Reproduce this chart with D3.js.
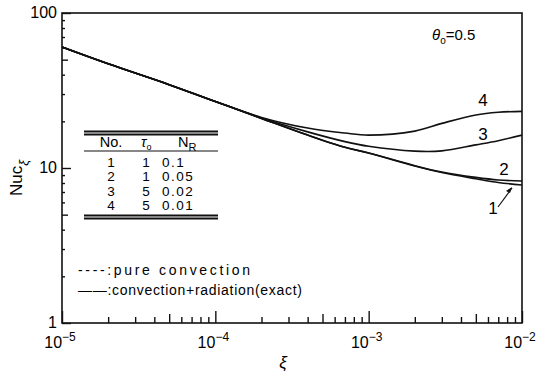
<!DOCTYPE html>
<html>
<head>
<meta charset="utf-8">
<script src="https://cdn.jsdelivr.net/npm/d3@7"></script>
<style>
  body { margin: 0; background: #fff; }
  svg { font-family: "Liberation Sans", Arial, sans-serif; }
  .curve { fill: none; stroke: #111; stroke-width: 1.6; }
  .tick line { stroke: #111; stroke-width: 1.4; }
</style>
</head>
<body>
<svg id="root"></svg>
<script>
// data
const xi = [1e-5, 2e-5, 5e-5, 1e-4, 2e-4, 4e-4, 7e-4, 1e-3, 2e-3, 3e-3, 5e-3, 7e-3, 1e-2];
const nu1 = [60.3, 47.0, 34.5, 26.85, 20.9, 16.3, 13.6, 12.5, 10.3, 9.35, 8.53, 8.07, 7.77];
const nu2 = [60.3, 47.0, 34.5, 26.85, 20.9, 16.3, 13.6, 12.5, 10.35, 9.42, 8.7, 8.37, 8.24];
const nu3 = [60.3, 47.0, 34.5, 26.85, 21.0, 17.1, 14.8, 13.8, 12.85, 12.9, 14.1, 15.0, 16.3];
const nu4 = [60.3, 47.0, 34.5, 26.85, 21.2, 18.1, 16.8, 16.3, 17.3, 19.4, 22.0, 22.9, 23.2];
const curveNames = ['1', '2', '3', '4'];
const tableHead = ['No.', 'τ', 'N'];
const tableRows = [['1', '1', '0.1'], ['2', '1', '0.05'], ['3', '5', '0.02'], ['4', '5', '0.01']];
const xMajors = [1e-5, 1e-4, 1e-3, 1e-2];
const yMajors = [1, 10, 100];

const width = 542, height = 380;
const margin = { top: 13, right: 20, bottom: 57, left: 62 };

const x = d3.scaleLog().domain([1e-5, 1e-2]).range([margin.left, width - margin.right]);
const y = d3.scaleLog().domain([1, 100]).range([height - margin.bottom, margin.top]);

const svg = d3.select('#root').attr('width', width).attr('height', height);

// minor ticks for a log decade set
function logTicks(lo, hi) {
    const t = [];
    for (let e = lo; e < hi; e++)
        for (let m = 1; m < 10; m++) t.push(m * Math.pow(10, e));
    t.push(Math.pow(10, hi));
    return t;
}
function tickLen(d) {
    const m = Math.round(d / Math.pow(10, Math.floor(Math.log10(d) + 1e-9)));
    if (m === 1) return 12;
    if (m === 5) return 9;
    return 6;
}

// x axis, ticks pointing up
const axisX = d3.axisBottom(x).tickValues(logTicks(-5, -2)).tickFormat('').tickSizeOuter(0);
const gx = svg.append('g')
    .attr('class', 'x axis')
    .attr('transform', `translate(0, ${height - margin.bottom})`)
    .call(axisX);
gx.select('.domain').remove();
gx.selectAll('.tick line').attr('y2', d => -tickLen(d));

// y axis, ticks pointing right
const axisY = d3.axisLeft(y).tickValues(logTicks(0, 2)).tickFormat('').tickSizeOuter(0);
const gy = svg.append('g')
    .attr('class', 'y axis')
    .attr('transform', `translate(${margin.left}, 0)`)
    .call(axisY);
gy.select('.domain').remove();
gy.selectAll('.tick line').attr('x2', d => tickLen(d) - 3);

// frame
svg.append('rect')
    .attr('x', x.range()[0]).attr('y', y.range()[1])
    .attr('width', x.range()[1] - x.range()[0])
    .attr('height', y.range()[0] - y.range()[1])
    .attr('fill', 'none').attr('stroke', '#111').attr('stroke-width', 1.6);

// tick labels
svg.selectAll('.xlab').data(xMajors).enter().append('text')
    .attr('class', 'xlab')
    .attr('x', d => x(d) - 2)
    .attr('y', height - margin.bottom + 25)
    .attr('text-anchor', 'middle')
    .attr('font-size', 16)
    .each(function(d) {
        const t = d3.select(this);
        t.append('tspan').text('10');
        t.append('tspan').attr('dy', -7).attr('font-size', 12).text('−' + Math.round(-Math.log10(d)));
    });

svg.selectAll('.ylab').data(yMajors).enter().append('text')
    .attr('class', 'ylab')
    .attr('x', margin.left - 5)
    .attr('y', d => y(d) + 5)
    .attr('text-anchor', 'end')
    .attr('font-size', 16)
    .text(d => d);

// axis titles
svg.append('text')
    .attr('x', 283).attr('y', 368)
    .attr('text-anchor', 'middle')
    .attr('font-size', 17).attr('font-style', 'italic')
    .text('ξ');

const yt = svg.append('text')
    .attr('transform', 'translate(22, 196) rotate(-90)')
    .attr('font-size', 17);
yt.append('tspan').text('Nuc');
yt.append('tspan').attr('dy', 6).attr('font-size', 13).attr('font-style', 'italic').text('ξ');

// curves
const line = d3.line()
    .x(d => x(d[0]))
    .y(d => y(d[1]))
    .curve(d3.curveCatmullRom.alpha(0.5));

const series = [nu1, nu2, nu3, nu4];
svg.selectAll('.curve').data(series).enter().append('path')
    .attr('class', 'curve')
    .attr('d', s => line(xi.map((v, i) => [v, s[i]])));

// curve labels
const labelPos = [[493, 214], [504, 175], [483, 140], [483, 106]];
svg.selectAll('.clab').data(curveNames).enter().append('text')
    .attr('class', 'clab')
    .attr('x', (d, i) => labelPos[i][0])
    .attr('y', (d, i) => labelPos[i][1])
    .attr('text-anchor', 'middle')
    .attr('font-size', 17)
    .text(d => d);

// leader arrow for curve 1
svg.append('path')
    .attr('d', 'M498,207 L512,188')
    .attr('stroke', '#111').attr('stroke-width', 1.2).attr('fill', 'none');
svg.append('path')
    .attr('d', 'M512,187 L506,191 L510,193 Z')
    .attr('fill', '#111');

svg.append('text')
    .attr('x', 432).attr('y', 40)
    .attr('font-size', 15)
    .each(function() {
        const t = d3.select(this);
        t.append('tspan').attr('font-style', 'italic').text('θ');
        t.append('tspan').attr('dy', 4).attr('font-size', 10).text('o');
        t.append('tspan').attr('dy', -4).text('=0.5');
    });

// parameter table
const tbl = svg.append('g').attr('class', 'table');
const tx0 = 84, tx1 = 218;
[131.5, 134.5, 215.5, 218.5].forEach(v => {
    tbl.append('line').attr('x1', tx0).attr('x2', tx1).attr('y1', v).attr('y2', v)
        .attr('stroke', '#111').attr('stroke-width', 2);
});
tbl.append('line').attr('x1', tx0).attr('x2', tx1).attr('y1', 151).attr('y2', 151)
    .attr('stroke', '#111').attr('stroke-width', 1.2);

const colX = [111, 146, 162];
const colAnchor = ['middle', 'middle', 'start'];
tbl.append('text').attr('x', colX[0]).attr('y', 147).attr('text-anchor', 'middle')
    .attr('font-size', 14.5).text(tableHead[0]);
const tauH = tbl.append('text').attr('x', 141).attr('y', 147).attr('font-size', 14.5);
tauH.append('tspan').attr('font-style', 'italic').text(tableHead[1]);
tauH.append('tspan').attr('dy', 3).attr('font-size', 9).text('o');
const nrH = tbl.append('text').attr('x', 178).attr('y', 147).attr('font-size', 14.5);
nrH.append('tspan').text(tableHead[2]);
nrH.append('tspan').attr('dy', 4).attr('font-size', 11).text('R');

tableRows.forEach((r, i) => {
    r.forEach((c, j) => {
        tbl.append('text')
            .attr('x', colX[j])
            .attr('y', 167 + i * 14.3)
            .attr('text-anchor', colAnchor[j])
            .attr('font-size', 13.5)
            .attr('letter-spacing', j === 2 ? 1.5 : 0)
            .text(c);
    });
});

// line style notes
svg.append('text')
    .attr('x', 78).attr('y', 275)
    .attr('font-size', 14)
    .attr('textLength', 172).attr('lengthAdjust', 'spacing')
    .text('----:pure convection');
svg.append('text')
    .attr('x', 78).attr('y', 295)
    .attr('font-size', 14)
    .attr('textLength', 224).attr('lengthAdjust', 'spacing')
    .text('——:convection+radiation(exact)');
</script>
</body>
</html>
